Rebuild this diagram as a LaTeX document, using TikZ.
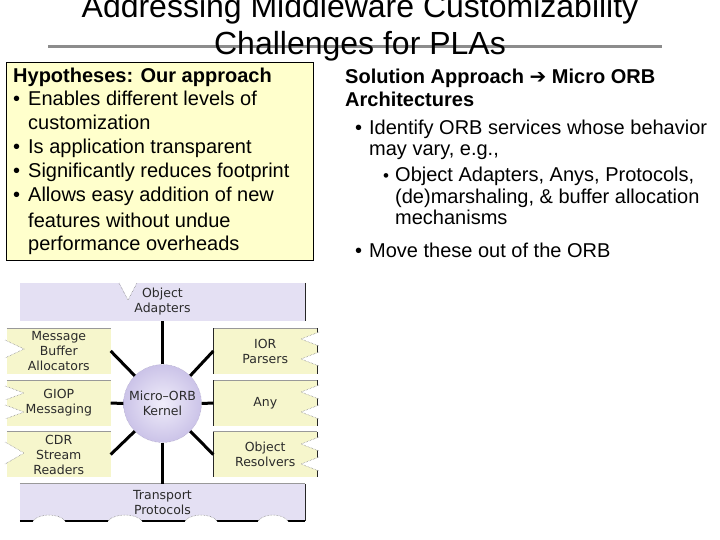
\documentclass[tikz,border=0pt]{standalone}
\usepackage{fontspec}
\setmainfont{Liberation Sans}
\newfontfamily\dvs{DejaVu Sans}
\usetikzlibrary{calc}
\definecolor{lav}{HTML}{E4E0F3}
\definecolor{lavd}{HTML}{CBC3E8}
\definecolor{lavl}{HTML}{F0EDFA}
\definecolor{ylw}{HTML}{FFFFCC}
\definecolor{dylw}{HTML}{F6F6CC}
\definecolor{ttl}{HTML}{8C8C8C}
\definecolor{dtxt}{HTML}{2B2B2B}
\newcommand\lnotchat[3]{%
  \fill[white] ({#1-2},{#2-#3}) -- ({#1+17},#2) -- ({#1-2},{#2+#3}) -- cycle;
  \draw[notchline] ({#1-2},{#2-#3}) -- ({#1+17},#2) -- ({#1-2},{#2+#3});}
\newcommand\rnotchat[3]{%
  \fill[white] ({#1+2},{#2-#3}) -- ({#1-16},#2) -- ({#1+2},{#2+#3}) -- cycle;
  \draw[notchline] ({#1+2},{#2-#3}) -- ({#1-16},#2) -- ({#1+2},{#2+#3});}
\newcommand\bumpat[2]{%
  \fill[white] (#1,522.5) -- (#1,521) .. controls ({#1+6},513) and ({#2-6},513) .. (#2,521) -- (#2,522.5) -- cycle;
  \draw[notchline] (#1,521) .. controls ({#1+6},513) and ({#2-6},513) .. (#2,521);}
\begin{document}
\begin{tikzpicture}[x=1pt,y=-1pt,
  txt/.style={anchor=base west, inner sep=0, font=\fontsize{20}{24}\selectfont},
  ttlt/.style={anchor=base, inner sep=0, font=\fontsize{32}{38}\selectfont},
  dfont/.style={font=\dvs\fontsize{12.5}{15}\selectfont, text=dtxt, align=center},
  ybox/.style={dfont, fill=dylw, inner sep=0, minimum width=103.5pt, minimum height=45pt},
  lbox/.style={dfont, fill=lav, inner sep=0, minimum width=285pt},
  spoke/.style={line width=3pt, black},
  notchline/.style={densely dotted, black!55, line width=0.5pt},
  grayedge/.style={black!40, line width=0.7pt},
  darkedge/.style={black!85, line width=1.2pt}]
\useasboundingbox (0,0) rectangle (720,540);

% title
\draw[ttl, line width=3pt] (48,47) -- (662,47);
\node[ttlt] (t1) at (360,18) {Addressing Middleware Customizability};
\node[ttlt] (t2) at (360,55) {Challenges for PLAs};

% hypotheses box
\draw[fill=ylw, draw=black, line width=1pt] (6,63) rectangle (313,260);
\node[txt] (h0) at (13,83) {\textbf{Hypotheses: Our approach}};
\node[txt] (h1) at (13,106) {\makebox[15pt][l]{•}Enables different levels of};
\node[txt] (h2) at (28,130) {customization};
\node[txt] (h3) at (13,154) {\makebox[15pt][l]{•}Is application transparent};
\node[txt] (h4) at (13,178) {\makebox[15pt][l]{•}Significantly reduces footprint};
\node[txt] (h5) at (13,202) {\makebox[15pt][l]{•}Allows easy addition of new};
\node[txt] (h6) at (28,227) {features without undue};
\node[txt] (h7) at (28,251) {performance overheads};

% solution text
\node[txt] (s0) at (345,84) {\textbf{Solution Approach {\dvs\bfseries ➔} Micro ORB}};
\node[txt] (s1) at (345,107) {\textbf{Architectures}};
\node[txt] (s2) at (355,135) {\makebox[14pt][l]{•}Identify ORB services whose behavior};
\node[txt] (s3) at (369,156) {may vary, e.g.,};
\node[txt] (s4) at (383,182) {\makebox[12pt][l]{\fontsize{17}{20}\selectfont•}Object Adapters, Anys, Protocols,};
\node[txt] (s5) at (395,204) {(de)marshaling, \& buffer allocation};
\node[txt] (s6) at (395,225) {mechanisms};
\node[txt] (s7) at (355,257) {\makebox[14pt][l]{•}Move these out of the ORB};

% micro-ORB diagram boxes
\node[lbox, minimum height=38pt] (oa) at (162.5,302) {Object\\Adapters};
\node[lbox, minimum height=37pt] (tp) at (162.5,502.5) {Transport\\Protocols};
\node[ybox] (mba) at (58.75,351) {Message\\Buffer\\Allocators};
\node[ybox] (giop) at (58.75,403) {GIOP\\Messaging};
\node[ybox] (cdr) at (58.75,454.5) {CDR\\Stream\\Readers};
\node[ybox] (ior) at (265.25,351) {IOR\\Parsers};
\node[ybox] (any) at (265.25,403) {Any};
\node[ybox] (ores) at (265.25,454.5) {Object\\Resolvers};

% box edges
\foreach \b in {mba,giop,cdr,ior,any,ores,tp}
  \draw[grayedge] (\b.north west) -- (\b.north east);
\foreach \b in {ior,any,ores}
  \draw[darkedge] (\b.north west) -- (\b.south west);
\foreach \b in {ior,any,ores}
  \draw[darkedge] (\b.north east) -- (\b.south east);
\draw[darkedge] (oa.north east) -- (oa.south east);
\draw[darkedge] (tp.north east) -- (tp.south east);
\draw[black, line width=2pt] (tp.south west) -- (tp.south east);

% notches
\fill[white] (119,282) -- (128,300) -- (137,282) -- cycle;
\draw[notchline] (119,283) -- (128,300) -- (137,283);
\lnotchat{7}{349}{9}
\lnotchat{7}{393}{7}
\lnotchat{7}{412}{7}
\lnotchat{7}{453}{11}
\rnotchat{317}{339}{7}
\rnotchat{317}{359}{7}
\rnotchat{317}{392}{7}
\rnotchat{317}{412}{7}
\rnotchat{317}{444}{7}
\rnotchat{317}{464}{7}
\bumpat{33}{65}
\bumpat{108}{142}
\bumpat{185}{217}
\bumpat{258}{288}

% kernel
\node[circle, inner sep=0, minimum size=78pt, inner color=lavl, outer color=lavd,
      draw=lavd!80!black, densely dotted, line width=0.4pt, dfont] (k) at (162.5,403.5) {Micro–ORB\\Kernel};

% spokes
\draw[spoke] (k.north) -- (oa.south);
\draw[spoke] (k.south) -- (tp.north);
\draw[spoke] (k.west) -- (giop.east);
\draw[spoke] (k.east) -- (any.west);
\draw[spoke] (k.135) -- (mba.east);
\draw[spoke] (k.45) -- (ior.west);
\draw[spoke] (k.225) -- (cdr.east);
\draw[spoke] (k.315) -- (ores.west);
\end{tikzpicture}
\end{document}
